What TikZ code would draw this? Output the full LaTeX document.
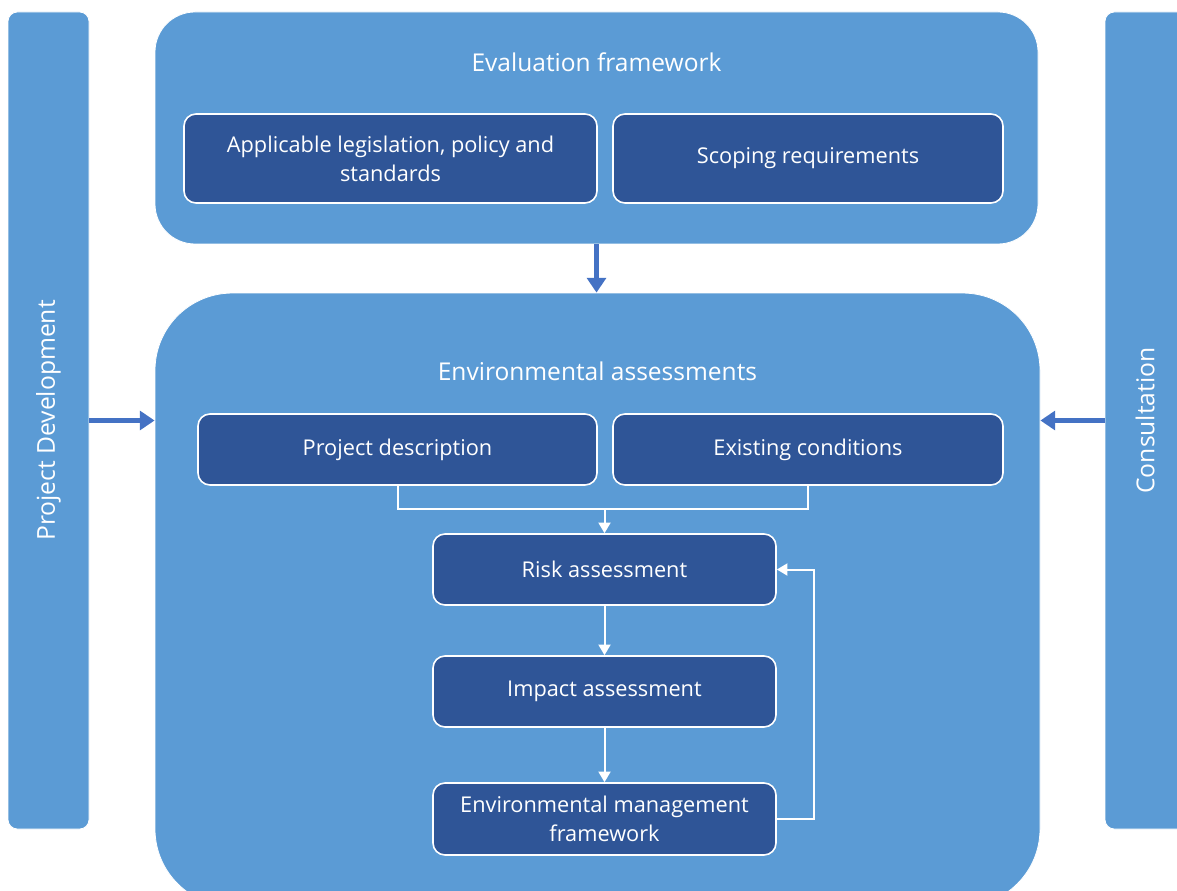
\documentclass[tikz,border=0pt]{standalone}
\usepackage{fontspec}
\setmainfont{Open Sans}
\usetikzlibrary{arrows.meta}
\definecolor{paneblue}{HTML}{5B9BD5}
\definecolor{stepblue}{HTML}{2F5597}
\definecolor{flowblue}{HTML}{4472C4}
\begin{document}
\begin{tikzpicture}[x=0.75pt,y=-0.75pt,
  pane/.style={fill=paneblue,draw=white,line width=0.6pt,inner sep=0pt},
  stepbox/.style={fill=stepblue,draw=white,line width=1.2pt,rounded corners=9pt,
    text=white,align=center,inner sep=0pt,font=\fontsize{16.3}{21.8}\selectfont},
  paneltitle/.style={text=white,font=\fontsize{18.4}{22}\selectfont},
  sidelabel/.style={text=white,rotate=90,font=\fontsize{18.5}{22}\selectfont},
  conn/.style={draw=white,line width=1.5pt},
  connarrow/.style={conn,-{Triangle[width=9pt,length=8pt]}},
  bigarrow/.style={draw=flowblue,line width=3.8pt,-{Triangle[width=14pt,length=11pt]}}]
\clip (0,0) rectangle (1177,891);
\fill[white] (0,0) rectangle (1177,891);

% side bars
\node[pane,rounded corners=7pt,minimum width=60.75pt,minimum height=612.75pt] (lbar) at (48.5,420.5) {};
\node[pane,rounded corners=7pt,minimum width=66pt,minimum height=612.75pt] (rbar) at (1149,420.5) {};
\node[sidelabel] (lbl) at (48.5,420.5) {Project Development};
\node[sidelabel] (rbl) at (1145,420.5) {Consultation};

% the two main panels
\node[pane,rounded corners=30pt,minimum width=662.25pt,minimum height=174pt] (eval) at (596.5,128) {};
\node[pane,rounded corners=58pt,minimum width=663.75pt,minimum height=460pt] (env) at (597.5,599.7) {};

\node[paneltitle] (evt) at (596.5,62) {Evaluation framework};
\node[paneltitle] (ent) at (597.5,371) {Environmental assessments};

% evaluation framework items
\node[stepbox,minimum width=309.75pt,minimum height=66.75pt] (leg) at (390.5,158.5)
  {Applicable legislation, policy and\\standards};
\node[stepbox,minimum width=292.5pt,minimum height=66.75pt] (scope) at (808,158.5)
  {Scoping requirements};

% assessment steps
\node[stepbox,minimum width=299.25pt,minimum height=53.25pt] (pd) at (397.5,449.5) {Project description};
\node[stepbox,minimum width=292.5pt,minimum height=53.25pt] (ec) at (808,449.5) {Existing conditions};
\node[stepbox,minimum width=257.25pt,minimum height=53.25pt] (risk) at (604.5,569.5) {Risk assessment};
\node[stepbox,minimum width=257.25pt,minimum height=53.25pt] (impact) at (604.5,691.5) {Impact assessment};
\node[stepbox,minimum width=257.25pt,minimum height=54pt] (emf) at (604.5,819)
  {Environmental management\\framework};

% flow inside the assessment panel
\coordinate (join) at (604.5,509);
\draw[conn] (pd.south) -- (pd.south |- join) -- (ec.south |- join) -- (ec.south);
\draw[connarrow] (join) -- (risk.north);
\draw[connarrow] (risk.south) -- (impact.north);
\draw[connarrow] (impact.south) -- (emf.north);
\draw[connarrow] (emf.east) -- ++(37,0) |- (risk.east);

% inputs to the assessment panel
\draw[bigarrow] (eval.south) -- (eval.south |- env.north);
\draw[bigarrow] (lbar.east) -- (lbar.east -| env.west);
\draw[bigarrow] (rbar.west) -- (rbar.west -| env.east);
\end{tikzpicture}
\end{document}
